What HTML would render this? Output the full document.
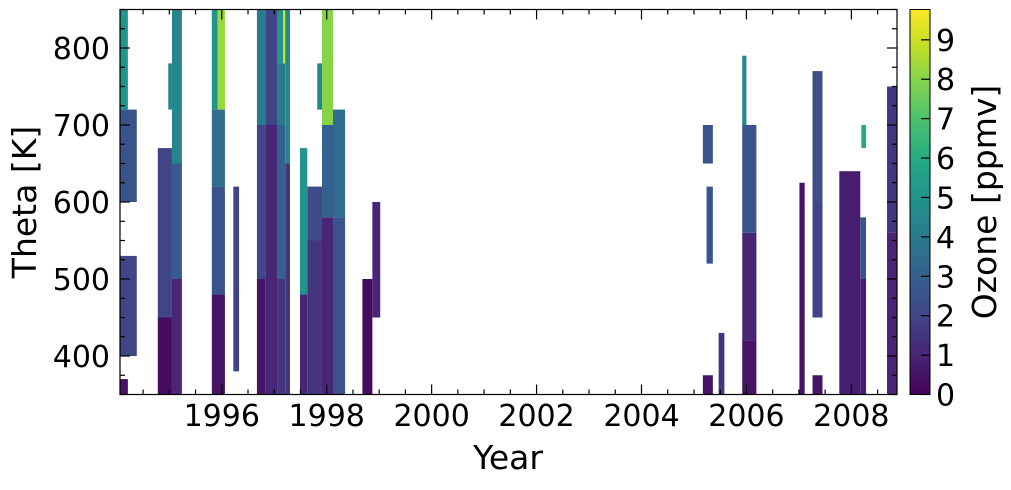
<!DOCTYPE html>
<html><head><meta charset="utf-8"><style>
body{margin:0;background:#fff}
svg text{font-family:"DejaVu Sans","Liberation Sans",sans-serif;fill:#000}
</style></head><body>
<svg id="chart" width="1011" height="485" viewBox="0 0 1011 485" xmlns="http://www.w3.org/2000/svg">
<defs>
<linearGradient id="vir" x1="0" y1="1" x2="0" y2="0">
<stop offset="0" stop-color="#440154"/><stop offset="0.1" stop-color="#482475"/><stop offset="0.2" stop-color="#414487"/><stop offset="0.3" stop-color="#355f8d"/><stop offset="0.4" stop-color="#2a788e"/><stop offset="0.5" stop-color="#21918c"/><stop offset="0.6" stop-color="#22a884"/><stop offset="0.7" stop-color="#44bf70"/><stop offset="0.8" stop-color="#7ad151"/><stop offset="0.9" stop-color="#bddf26"/><stop offset="1" stop-color="#fde725"/>
</linearGradient>
</defs>
<g id="cells"></g>
<rect x="120" y="9.5" width="777" height="385" fill="none" stroke="#000" stroke-width="1.2"/>
<g id="ticks"></g>
<text x="508" y="469" font-size="33" text-anchor="middle">Year</text>
<text transform="translate(36,202) rotate(-90)" font-size="33" text-anchor="middle">Theta [K]</text>
<rect x="910" y="9.5" width="20" height="385" fill="url(#vir)" stroke="#000" stroke-width="1"/>
<g id="cbticks"></g>
<text transform="translate(996,202) rotate(-90)" font-size="33" text-anchor="middle">Ozone [ppmv]</text>
</svg>
<script>
const xTickYears=[1996,1998,2000,2002,2004,2006,2008];
const yTickTheta=[400,500,600,700,800];
const cbTicks=[0,1,2,3,4,5,6,7,8,9];
// [startYear, endYear, thetaLo, thetaHi, ozone ppmv]
const cells=[
[1994.06,1994.21,720,850,5],[1994.06,1994.38,600,720,2.5],[1994.06,1994.38,400,530,2],[1994.06,1994.21,350,370,0.5],
[1994.78,1995.05,350,450,0.3],[1994.78,1995.05,450,670,2],[1995.05,1995.24,350,500,1],[1995.05,1995.24,500,650,2.8],[1995.05,1995.24,650,850,4.5],[1994.98,1995.05,720,780,4.5],
[1995.81,1996.06,350,480,0.5],[1995.81,1996.06,480,620,2.5],[1995.81,1996.06,620,720,3.5],[1995.81,1995.92,720,850,5],[1995.92,1996.06,720,850,8.3],
[1996.22,1996.33,380,620,2],
[1996.67,1996.83,350,500,0.5],[1996.67,1996.83,500,700,2],[1996.67,1996.83,700,850,4],[1996.83,1997.06,350,700,1],[1996.83,1997.06,700,850,2],[1997.06,1997.21,350,500,1.5],[1997.06,1997.21,500,700,3],[1997.06,1997.21,700,780,4],[1997.06,1997.17,780,850,5],[1997.17,1997.25,780,850,9],[1997.21,1997.30,350,650,1.5],[1997.21,1997.30,650,850,4.5],
[1997.49,1997.63,350,480,1],[1997.49,1997.63,480,670,5],[1997.63,1997.91,350,550,1.5],[1997.63,1997.91,550,620,2.2],[1997.91,1998.12,350,580,1],[1997.91,1998.12,580,700,3],[1997.91,1998.12,700,850,8],[1998.12,1998.35,350,580,2.5],[1998.12,1998.35,580,720,3.5],[1997.82,1997.91,720,780,4.5],
[1998.68,1998.87,350,500,0.3],[1998.87,1999.02,450,600,1],
[2005.17,2005.36,650,700,2.5],[2005.24,2005.36,520,620,2.5],[2005.17,2005.36,350,375,0.5],[2005.47,2005.58,350,430,1.5],
[2005.92,2006.19,350,420,0.5],[2005.92,2006.19,420,560,1],[2005.92,2006.19,560,700,2.5],[2005.92,2006.00,700,790,4.5],
[2007.01,2007.11,350,625,0.5],
[2007.26,2007.45,450,600,2],[2007.26,2007.45,600,770,2.3],[2007.26,2007.45,350,375,0.5],
[2007.77,2008.17,350,640,0.8],[2008.17,2008.28,350,500,0.8],[2008.17,2008.28,500,580,2.5],[2008.19,2008.28,670,700,6],
[2008.68,2008.87,350,560,1],[2008.68,2008.87,560,750,1.5]
];
const X0=120,X1=897,Y0=394.5,Y1=9.5,yr0=1994.06,yr1=2008.87,th0=350,th1=850,vmax=9.77;
const xs=y=>X0+(y-yr0)/(yr1-yr0)*(X1-X0);
const ys=t=>Y0-(t-th0)/(th1-th0)*(Y0-Y1);
const cs=v=>Y0-v/vmax*(Y0-Y1);
const V=["#440154","#482475","#414487","#355f8d","#2a788e","#21918c","#22a884","#44bf70","#7ad151","#bddf26","#fde725"];
function vir(v){let t=Math.max(0,Math.min(1,v/vmax))*10;let i=Math.min(9,Math.floor(t)),f=t-i;
const a=V[i],b=V[i+1];const p=(s,k)=>parseInt(s.substr(k,2),16);
const c=[1,3,5].map(k=>Math.round(p(a,k)+(p(b,k)-p(a,k))*f));return`rgb(${c})`;}
const NS="http://www.w3.org/2000/svg";
function mk(tag,at,parent){const e=document.createElementNS(NS,tag);for(const k in at)e.setAttribute(k,at[k]);parent.appendChild(e);return e;}
const g=document.getElementById('cells');
cells.forEach(c=>{const r=mk('rect',{x:xs(c[0]),y:ys(c[3]),width:xs(c[1])-xs(c[0]),height:ys(c[2])-ys(c[3]),fill:vir(c[4])},g);

});
const tg=document.getElementById('ticks');
function ln(x1,y1,x2,y2,p){const l=mk('line',{x1,y1,x2,y2,stroke:'#000','stroke-width':1.2},p);

}
for(let y=1994.5;y<=yr1;y+=0.5){const x=xs(y);const maj=Math.abs(y%2)<1e-6;const L=maj?10:5;ln(x,Y0,x,Y0-L,tg);ln(x,Y1,x,Y1+L,tg);}
for(let t=350;t<=850;t+=25){const y=ys(t);const maj=t%100===0;const L=maj?10:5;ln(X0,y,X0+L,y,tg);ln(X1,y,X1-L,y,tg);}
xTickYears.forEach(y=>{const t=mk('text',{x:xs(y),y:426,'font-size':30,'text-anchor':'middle'},tg);t.textContent=y;

});
yTickTheta.forEach(v=>{const t=mk('text',{x:110,y:ys(v)+11,'font-size':30,'text-anchor':'end'},tg);t.textContent=v;

});
const cg=document.getElementById('cbticks');
cbTicks.forEach(v=>{const y=cs(v);ln(930,y,921,y,cg);const t=mk('text',{x:936,y:y+11,'font-size':30},cg);t.textContent=v;

});
</script>
</body></html>
